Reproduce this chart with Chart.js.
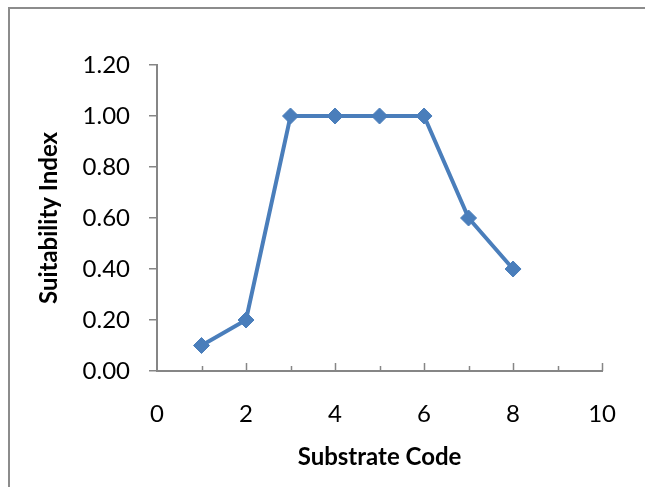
<!DOCTYPE html>
<html>
<head>
<meta charset="utf-8">
<script src="https://cdn.jsdelivr.net/npm/chart.js@4"></script>
<style>
  html, body { margin: 0; padding: 0; background: #fff; }
  canvas { display: block; }
</style>
</head>
<body>
<canvas id="chart" width="645" height="487"></canvas>
<script>
// values
var substrateCode = [1, 2, 3, 4, 5, 6, 7, 8];
var suitability = [0.10, 0.20, 1.00, 1.00, 1.00, 1.00, 0.60, 0.40];
var xMajorTicks = [2, 4, 6, 8, 10];
var xMinorTicks = [1, 3, 5, 7, 9];

var AXIS = '#868686';
var BLUE = '#4A7EBB';

// grey frame (only top/left edges are visible in the picture)
var framePlugin = {
    id: 'frame',
    beforeDraw: function (chart) {
        var ctx = chart.ctx;
        ctx.save();
        ctx.strokeStyle = '#8c8c8c';
        ctx.lineWidth = 2;
        ctx.beginPath();
        ctx.moveTo(9, chart.height);
        ctx.lineTo(9, 8);
        ctx.lineTo(chart.width, 8);
        ctx.stroke();
        ctx.restore();
    }
};

// x axis tick marks point inward (up), excel style
var xTickPlugin = {
    id: 'xTicks',
    afterDraw: function (chart) {
        var x = chart.scales.x, y = chart.scales.y;
        var base = y.getPixelForValue(0);
        var ctx = chart.ctx;
        ctx.save();
        ctx.strokeStyle = AXIS;
        ctx.lineWidth = 1.5;
        ctx.beginPath();
        xMajorTicks.forEach(function (v) {
            var px = Math.round(x.getPixelForValue(v)) + 0.5;
            ctx.moveTo(px, base);
            ctx.lineTo(px, base - 8);
        });
        xMinorTicks.forEach(function (v) {
            var px = Math.round(x.getPixelForValue(v)) + 0.5;
            ctx.moveTo(px, base);
            ctx.lineTo(px, base - 5);
        });
        ctx.stroke();
        ctx.restore();
    }
};

var data = substrateCode.map(function (c, i) {
    return { x: c, y: suitability[i] };
});

var ctx = document.getElementById('chart').getContext('2d');
new Chart(ctx, {
    type: 'line',
    data: {
        datasets: [{
            data: data,
            borderColor: BLUE,
            backgroundColor: BLUE,
            borderWidth: 4,
            pointStyle: 'rectRot',
            pointRadius: 8,
            pointBorderWidth: 1,
            pointHoverRadius: 8,
            tension: 0
        }]
    },
    options: {
        responsive: false,
        animation: false,
        events: [],
        layout: { padding: { top: 65, right: 40, left: 0, bottom: 0 } },
        plugins: {
            legend: { display: false },
            tooltip: { enabled: false }
        },
        scales: {
            x: {
                type: 'linear',
                min: 0,
                max: 10,
                afterFit: function (s) { s.height = 116; },
                afterBuildTicks: function (s) {
                    s.ticks = [0].concat(xMajorTicks).map(function (v) { return { value: v }; });
                },
                ticks: {
                    padding: 29,
                    color: '#000',
                    font: { family: 'Lato', size: 24 },
                    maxRotation: 0,
                    callback: function (v) { return v; }
                },
                grid: { display: true, drawOnChartArea: false, drawTicks: false },
                border: { color: AXIS, width: 2 },
                title: {
                    display: true,
                    text: 'Substrate Code',
                    color: '#000',
                    font: { family: 'Lato', size: 24, weight: 'bold' },
                    padding: { top: 0, bottom: 15 }
                }
            },
            y: {
                min: 0,
                max: 1.2,
                afterFit: function (s) { s.width = 157; },
                ticks: {
                    stepSize: 0.2,
                    padding: 19,
                    color: '#000',
                    font: { family: 'Lato', size: 24 },
                    callback: function (v) { return v.toFixed(2); }
                },
                grid: {
                    drawOnChartArea: false,
                    drawTicks: true,
                    tickLength: 8,
                    color: AXIS,
                    lineWidth: 1.5
                },
                border: { color: AXIS, width: 2 },
                title: {
                    display: true,
                    text: 'Suitability Index',
                    color: '#000',
                    font: { family: 'Lato', size: 24, weight: 'bold' },
                    padding: { top: 35, bottom: 0 }
                }
            }
        }
    },
    plugins: [framePlugin, xTickPlugin]
});
</script>
</body>
</html>
